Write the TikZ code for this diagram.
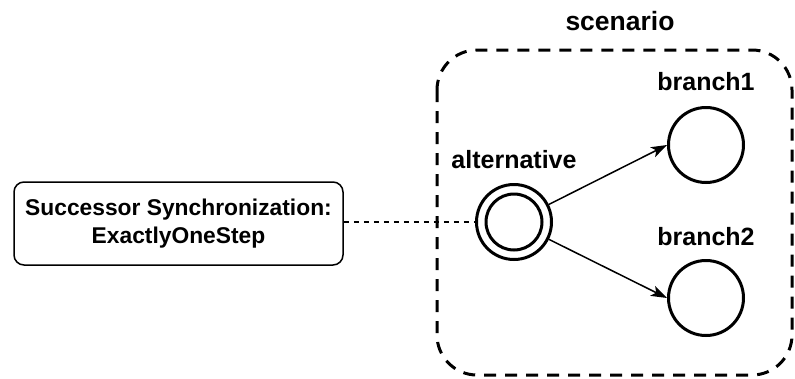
\documentclass[tikz,border=0pt]{standalone}
\usepackage{fontspec}
\setmainfont{Liberation Sans}
\usetikzlibrary{arrows.meta}
\begin{document}
\begin{tikzpicture}[x=1pt,y=-1pt,
  lbl/.style={font=\bfseries\fontsize{25}{28}\selectfont, inner sep=0pt},
  state/.style={circle, draw, line width=3pt, minimum size=75pt, inner sep=0pt},
  conn/.style={line width=1.5pt, -{Stealth[length=16pt,width=11pt,inset=4pt]}},
]
\useasboundingbox (0,0) rectangle (795,378);
% container
\draw[line width=3pt, dash pattern=on 12pt off 9pt, rounded corners=40pt] (437,50) rectangle (792,375);
\node[lbl, font=\bfseries\fontsize{26.5}{30}\selectfont] (scen) at (620,21) {scenario};
% box
\node[draw, line width=1.5pt, rounded corners=10pt, minimum width=329pt, minimum height=83pt, align=center,
      font=\bfseries\fontsize{22.8}{28}\selectfont, inner sep=0pt] (box) at (178.5,223.5) {Successor Synchronization:\\ExactlyOneStep};
% states
\node[state] (alt) at (514,222) {};
\node[circle, draw, line width=3pt, minimum size=56pt, inner sep=0pt] (alti) at (514,222) {};
\node[state] (b1) at (706,145) {};
\node[state] (b2) at (706,298) {};
\node[lbl] (altl) at (514,160) {alternative};
\node[lbl] (b1l) at (706,82) {branch1};
\node[lbl] (b2l) at (706,237) {branch2};
% connectors
\draw[line width=1.5pt, dash pattern=on 5pt off 5pt] (box.east |- alt.west) -- (alt.west);
\draw[conn] (alt) -- (b1.west);
\draw[conn] (alt) -- (b2.west);
\end{tikzpicture}
\end{document}
